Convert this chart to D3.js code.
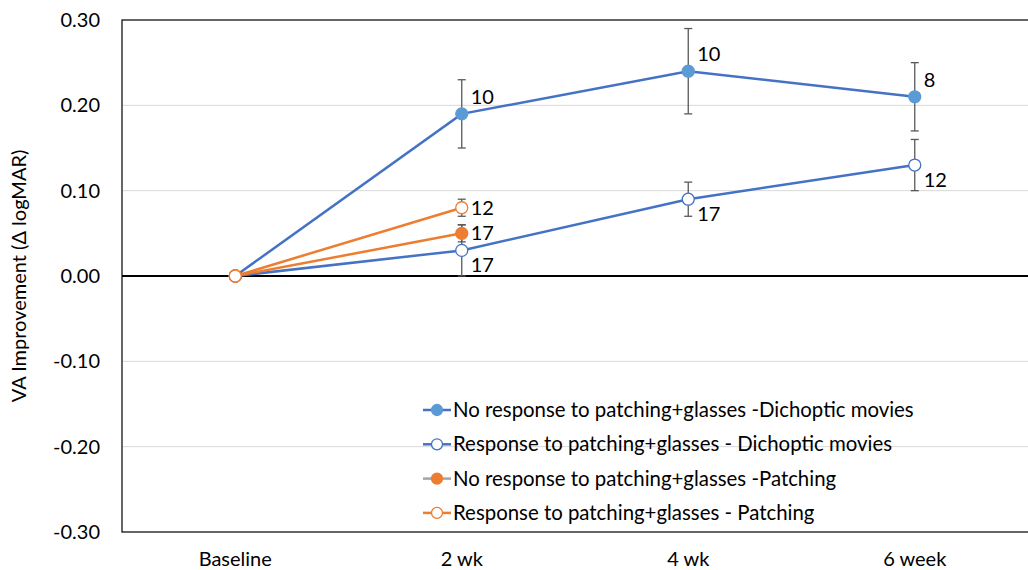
<!DOCTYPE html>
<html>
<head>
<meta charset="utf-8">
<script src="https://cdn.jsdelivr.net/npm/d3@7"></script>
<style>
  body { margin: 0; background: #fff; }
  text { font-family: Lato, "Open Sans", sans-serif; fill: #000; }
</style>
</head>
<body>
<svg id="chart" width="1028" height="570"></svg>
<script>
const categories = ["Baseline", "2 wk", "4 wk", "6 week"];
const yTicks = [0.30, 0.20, 0.10, 0.00, -0.10, -0.20, -0.30];

// values, error half-widths and n labels per series
const noRespMovies = [0, 0.19, 0.24, 0.21];
const noRespMoviesErr = [0, 0.04, 0.05, 0.04];
const noRespMoviesN = [null, "10", "10", "8"];

const respMovies = [0, 0.03, 0.09, 0.13];
const respMoviesErr = [0, 0.03, 0.02, 0.03];
const respMoviesN = [null, "17", "17", "12"];

const noRespPatch = [0, 0.05];
const noRespPatchErr = [0, 0.01];
const noRespPatchN = [null, "17"];

const respPatch = [0, 0.08];
const respPatchErr = [0, 0.01];
const respPatchN = [null, "12"];

const seriesNames = [
  "No response to patching+glasses -Dichoptic movies",
  "Response to patching+glasses - Dichoptic movies",
  "No response to patching+glasses -Patching",
  "Response to patching+glasses - Patching"
];

const blue = "#4472C4", lightBlue = "#5B9BD5", orange = "#ED7D31";

const series = [
  { name: seriesNames[0], vals: noRespMovies, err: noRespMoviesErr, n: noRespMoviesN, line: blue, fill: lightBlue, stroke: lightBlue, legLine: blue, lab: "above" },
  { name: seriesNames[1], vals: respMovies, err: respMoviesErr, n: respMoviesN, line: blue, fill: "#fff", stroke: blue, legLine: blue, lab: "below" },
  { name: seriesNames[2], vals: noRespPatch, err: noRespPatchErr, n: noRespPatchN, line: orange, fill: orange, stroke: orange, legLine: "#A5A5A5", lab: "right" },
  { name: seriesNames[3], vals: respPatch, err: respPatchErr, n: respPatchN, line: orange, fill: "#fff", stroke: orange, legLine: orange, lab: "right" }
];

const svg = d3.select("#chart");
const mLeft = 122, mRight = 1028, mTop = 20, mBottom = 532;
const fs = "20px";

const x = d3.scalePoint().domain(categories).range([mLeft, mRight]).padding(0.5);
const y = d3.scaleLinear().domain([-0.3, 0.3]).range([mBottom, mTop]);

// gridlines
svg.append("g").selectAll("line")
  .data(yTicks.filter(t => t !== 0 && t !== 0.3 && t !== -0.3))
  .join("line")
  .attr("x1", mLeft).attr("x2", mRight)
  .attr("y1", d => y(d)).attr("y2", d => y(d))
  .attr("stroke", "#d9d9d9").attr("stroke-width", 1);

// frame
svg.append("rect")
  .attr("x", mLeft).attr("y", mTop)
  .attr("width", mRight - mLeft + 2).attr("height", mBottom - mTop)
  .attr("fill", "none").attr("stroke", "#000").attr("stroke-width", 1.2);

// zero line
svg.append("line")
  .attr("x1", mLeft).attr("x2", mRight)
  .attr("y1", y(0)).attr("y2", y(0))
  .attr("stroke", "#000").attr("stroke-width", 2);

// y tick labels
svg.append("g").selectAll("text")
  .data(yTicks).join("text")
  .attr("x", 100).attr("y", d => y(d) + 7)
  .attr("text-anchor", "end")
  .style("font-size", fs)
  .text(d => d3.format(".2f")(d).replace("−", "-"));

// x labels
svg.append("g").selectAll("text")
  .data(categories).join("text")
  .attr("x", d => x(d)).attr("y", 566)
  .attr("text-anchor", "middle")
  .style("font-size", fs)
  .text(d => d);

// y title
svg.append("text")
  .attr("transform", `translate(26, ${y(0)}) rotate(-90)`)
  .attr("text-anchor", "middle")
  .style("font-size", fs)
  .text("VA Improvement (Δ logMAR)");

const line = d3.line().x((d, i) => x(categories[i])).y(d => y(d));

// error bars
series.forEach(s => {
  const g = svg.append("g");
  s.vals.forEach((v, i) => {
    if (!s.err[i]) return;
    const cx = x(categories[i]);
    const y1 = y(v + s.err[i]), y2 = y(v - s.err[i]);
    g.append("line").attr("x1", cx).attr("x2", cx).attr("y1", y1).attr("y2", y2)
      .attr("stroke", "#595959").attr("stroke-width", 1.3);
    [y1, y2].forEach(yy => g.append("line")
      .attr("x1", cx - 4).attr("x2", cx + 4).attr("y1", yy).attr("y2", yy)
      .attr("stroke", "#595959").attr("stroke-width", 1.3));
  });
});

// lines
series.forEach(s => {
  svg.append("path").datum(s.vals)
    .attr("d", line).attr("fill", "none")
    .attr("stroke", s.line).attr("stroke-width", 2.5);
});

// markers and n labels
series.forEach(s => {
  svg.append("g").selectAll("circle")
    .data(s.vals).join("circle")
    .attr("cx", (d, i) => x(categories[i])).attr("cy", d => y(d))
    .attr("r", 6)
    .attr("fill", s.fill).attr("stroke", s.stroke).attr("stroke-width", 1.3);
  svg.append("g").selectAll("text")
    .data(s.vals.map((v, i) => ({ v, i, n: s.n[i] })).filter(d => d.n))
    .join("text")
    .attr("x", d => x(categories[d.i]) + 9)
    .attr("y", d => y(d.v) + (s.lab === "above" ? -10 : s.lab === "below" ? 22 : 7))
    .style("font-size", fs)
    .text(d => d.n);
});

// legend
const leg = svg.append("g").attr("transform", "translate(423, 410)");
series.forEach((s, i) => {
  const g = leg.append("g").attr("transform", `translate(0, ${i * 34.3})`);
  g.append("line").attr("x1", 0).attr("x2", 28).attr("y1", 0).attr("y2", 0)
    .attr("stroke", s.legLine).attr("stroke-width", 2.5);
  g.append("circle").attr("cx", 14).attr("cy", 0).attr("r", 5.5)
    .attr("fill", s.fill).attr("stroke", s.stroke).attr("stroke-width", 1.3);
  g.append("text").attr("x", 30).attr("y", 7)
    .style("font-size", "20.4px").text(s.name);
});
</script>
</body>
</html>
